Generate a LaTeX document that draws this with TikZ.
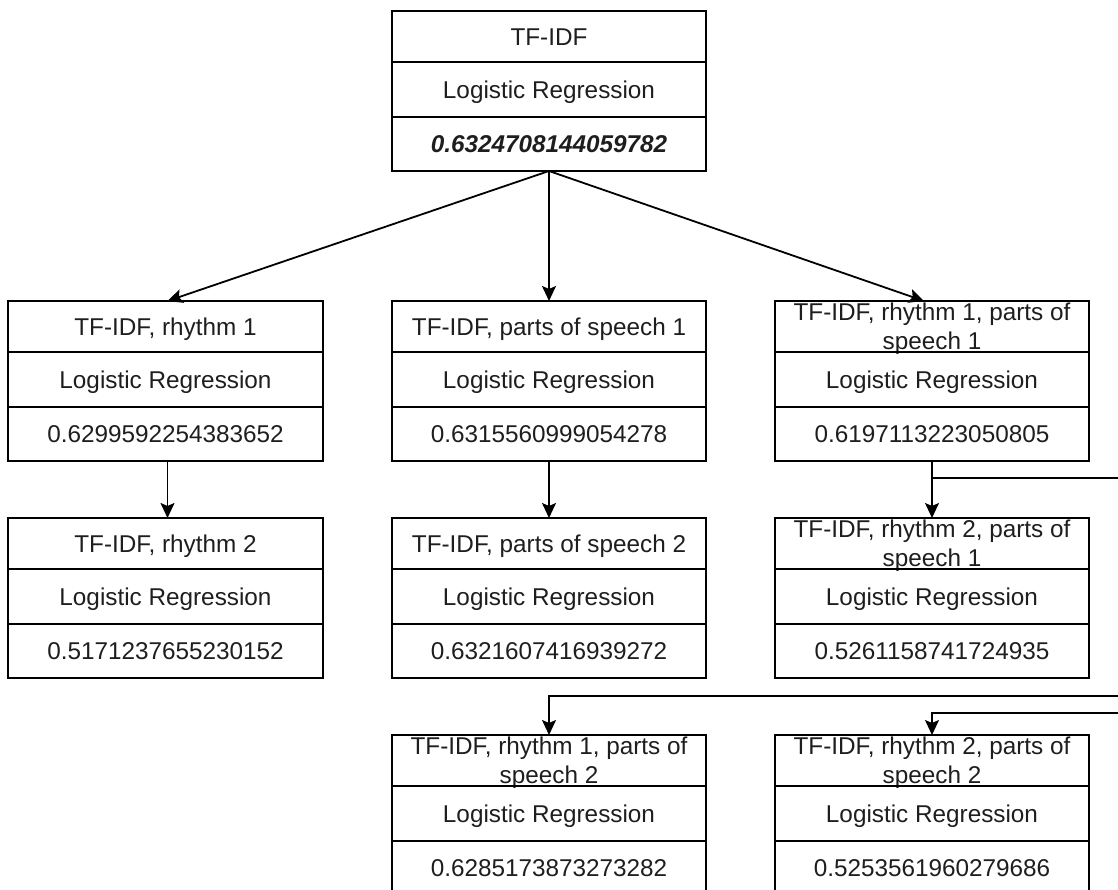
\documentclass[tikz,border=0pt]{standalone}
\usepackage{fontspec}
\setmainfont{Liberation Sans}
\usetikzlibrary{arrows.meta}
\definecolor{ink}{RGB}{30,30,30}
\newcommand\twol[2]{\begin{tabular}[b]{@{}c@{}}#1\\#2\end{tabular}}
\newcommand\resbox[7][]{%
  \node[ca,#1] (#2-a) at (#3,#4) {#5};
  \node[cb] (#2-b) at (#2-a.south) {#6};
  \node[cc] (#2-c) at (#2-b.south) {#7};
}
\tikzset{
  cell/.style={draw=black, line width=1.8pt, minimum width=314.5pt, inner sep=0pt, outer sep=0pt,
    anchor=north, text=ink, font=\fontsize{24.3}{29}\selectfont, text height=17.5pt, text depth=0pt},
  ca/.style={cell, minimum height=51pt},
  cb/.style={cell, minimum height=55pt},
  cc/.style={cell, minimum height=54pt},
  two/.style={text height=46.5pt},
  conn/.style={draw=black, line width=1.8pt, -{Stealth[length=15pt,width=14pt,inset=3pt]}},
  plain/.style={draw=black, line width=1.8pt}
}
\begin{document}
\begin{tikzpicture}[x=1pt,y=-1pt]
\useasboundingbox (0,0) rectangle (1118,890);
% top
\resbox{T}{549}{11}{TF-IDF}{Logistic Regression}{\bfseries\itshape 0.6324708144059782}
% row 2
\resbox{L2}{165.5}{301}{TF-IDF, rhythm 1}{Logistic Regression}{0.6299592254383652}
\resbox{M2}{549}{301}{TF-IDF, parts of speech 1}{Logistic Regression}{0.6315560999054278}
\resbox[two]{R2}{932}{301}{\twol{TF-IDF, rhythm 1, parts of}{speech 1}}{Logistic Regression}{0.6197113223050805}
% row 3
\resbox{L3}{165.5}{518}{TF-IDF, rhythm 2}{Logistic Regression}{0.5171237655230152}
\resbox{M3}{549}{518}{TF-IDF, parts of speech 2}{Logistic Regression}{0.6321607416939272}
\resbox[two]{R3}{932}{518}{\twol{TF-IDF, rhythm 2, parts of}{speech 1}}{Logistic Regression}{0.5261158741724935}
% row 4
\resbox[two]{M4}{549}{735}{\twol{TF-IDF, rhythm 1, parts of}{speech 2}}{Logistic Regression}{0.6285173873273282}
\resbox[two]{R4}{932}{735}{\twol{TF-IDF, rhythm 2, parts of}{speech 2}}{Logistic Regression}{0.5253561960279686}
% connectors
\draw[conn] (T-c.south) -- ([xshift=2pt]L2-a.north);
\draw[conn] (T-c.south) -- (M2-a.north);
\draw[conn] (T-c.south) -- ([xshift=-8pt]R2-a.north);
\draw[conn] ([xshift=2pt]L2-c.south) -- ([xshift=2pt]L3-a.north);
\draw[conn] (M2-c.south) -- (M3-a.north);
\draw[conn] (R2-c.south) -- (R3-a.north);
\coordinate (e1) at (1118,478);
\coordinate (e2) at (1118,696);
\coordinate (e3) at (1118,713);
\draw[plain] (R2-c.south) |- (e1);
\draw[conn] (e2) -| (M4-a.north);
\draw[conn] (e3) -| (R4-a.north);
\end{tikzpicture}
\end{document}
